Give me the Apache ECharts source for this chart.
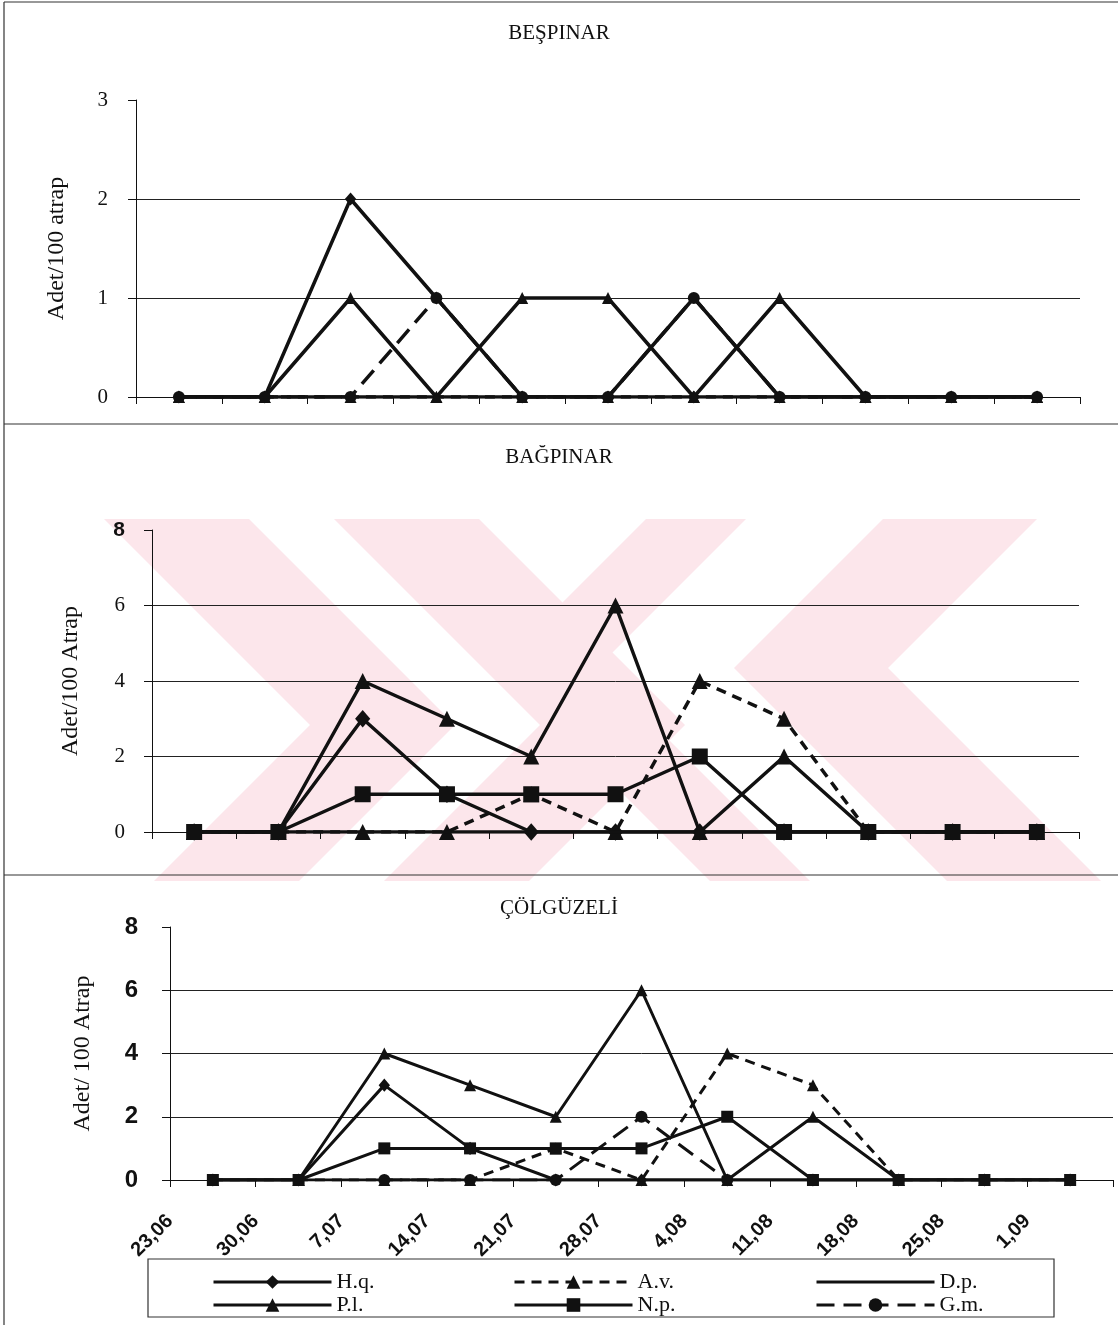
<!DOCTYPE html>
<html>
<head>
<meta charset="utf-8">
<title>Adet/100 atrap</title>
<script src="https://cdn.jsdelivr.net/npm/echarts@6/dist/echarts.min.js"></script>
<style>
  html, body { margin: 0; padding: 0; background: #fff; }
  #chart { width: 1118px; height: 1325px; }
</style>
</head>
<body>
<div id="chart"></div>
<script>
const dates = ['23,06', '30,06', '7,07', '14,07', '21,07', '28,07', '4,08', '11,08', '18,08', '25,08', '1,09'];
const seriesNames = ['H.q.', 'A.v.', 'D.p.', 'P.l.', 'N.p.', 'G.m.'];

// BEŞPINAR
const besHq = [0, 0, 2, 1, 0, 0, 0, 0, 0, 0, 0];
const besAv = [0, 0, 0, 0, 0, 0, 0, 0, 0, 0, 0];
const besDp = [0, 0, 0, 0, 0, 0, 1, 0, 0, 0, 0];
const besPl = [0, 0, 1, 0, 1, 1, 0, 1, 0, 0, 0];
const besNp = [null, null, null, null, null, null, null, null, null, null, null];
const besGm = [0, 0, 0, 1, 0, 0, 1, 0, 0, 0, 0];

// BAĞPINAR
const bagHq = [0, 0, 3, 1, 0, 0, 0, 0, 0, 0, 0];
const bagAv = [0, 0, 0, 0, 1, 0, 4, 3, 0, 0, 0];
const bagDp = [0, 0, 0, 0, 0, 0, 0, 0, 0, 0, 0];
const bagPl = [0, 0, 4, 3, 2, 6, 0, 2, 0, 0, 0];
const bagNp = [0, 0, 1, 1, 1, 1, 2, 0, 0, 0, 0];
const bagGm = [null, null, null, null, null, null, null, null, null, null, null];

// ÇÖLGÜZELİ
const colHq = [0, 0, 3, 1, 0, 0, 0, 0, 0, 0, 0];
const colAv = [0, 0, 0, 0, 1, 0, 4, 3, 0, 0, 0];
const colDp = [0, 0, 0, 0, 0, 0, 0, 0, 0, 0, 0];
const colPl = [0, 0, 4, 3, 2, 6, 0, 2, 0, 0, 0];
const colNp = [0, 0, 1, 1, 1, 1, 2, 0, 0, 0, 0];
const colGm = [null, null, 0, 0, 0, 2, 0, null, null, null, null];

const serif = 'Liberation Serif';
const sans = 'Liberation Sans';
const ink = '#111';

const looks = {
  'H.q.': { symbol: 'diamond', dash: 'solid' },
  'A.v.': { symbol: 'triangle', dash: [10, 7] },
  'D.p.': { symbol: 'none', dash: 'solid' },
  'P.l.': { symbol: 'triangle', dash: 'solid' },
  'N.p.': { symbol: 'rect', dash: 'solid' },
  'G.m.': { symbol: 'circle', dash: [18, 9] }
};

const panels = [
  { title: 'BEŞPINAR', yName: 'Adet/100 atrap', max: 3, step: 1, size: 12, width: 3.5,
    data: [besHq, besAv, besDp, besPl, besNp, besGm],
    grid: { left: 136, top: 100, width: 944, height: 297 },
    titleTop: 18, nameGap: 67, labelGap: 28 },
  { title: 'BAĞPINAR', yName: 'Adet/100 Atrap', max: 8, step: 2, size: 16, width: 3.5,
    data: [bagHq, bagAv, bagDp, bagPl, bagNp, bagGm],
    grid: { left: 152, top: 530, width: 927, height: 302 },
    titleTop: 442, nameGap: 69, labelGap: 27 },
  { title: 'ÇÖLGÜZELİ', yName: 'Adet/ 100 Atrap', max: 8, step: 2, size: 12, width: 3,
    data: [colHq, colAv, colDp, colPl, colNp, colGm],
    grid: { left: 170, top: 927, width: 943, height: 253 },
    titleTop: 893, nameGap: 75, labelGap: 32 }
];

const yLabel = (p, v) => {
  if (p === 2) return '{bb|' + v + '}';
  if (p === 1 && v === 8) return '{b|' + v + '}';
  return '{s|' + v + '}';
};

const xAxis = [];
const yAxis = [];
const series = [];
const title = [];

panels.forEach((p, gi) => {
  title.push({
    text: p.title, left: 'center', top: p.titleTop,
    textStyle: { fontFamily: serif, fontSize: 21, fontWeight: 'normal', color: ink }
  });
  xAxis.push({
    type: 'category', gridIndex: gi, data: dates, boundaryGap: true, position: 'bottom',
    axisLine: { lineStyle: { color: ink, width: 1 } },
    axisTick: { show: true, length: 7, lineStyle: { color: ink } },
    axisLabel: { show: false },
    splitLine: { show: false }
  });
  yAxis.push({
    type: 'value', gridIndex: gi, min: 0, max: p.max, interval: p.step,
    name: p.yName, nameLocation: 'middle', nameGap: p.nameGap, nameRotate: 90,
    nameTextStyle: { fontFamily: serif, fontSize: 24, color: ink },
    axisLine: { show: true, lineStyle: { color: ink, width: 1 } },
    axisTick: { show: true, length: 8, lineStyle: { color: ink } },
    axisLabel: {
      margin: p.labelGap,
      formatter: v => yLabel(gi, v),
      rich: {
        s: { fontFamily: serif, fontSize: 21, color: ink },
        b: { fontFamily: sans, fontSize: 21, fontWeight: 'bold', color: ink },
        bb: { fontFamily: sans, fontSize: 24, fontWeight: 'bold', color: ink }
      }
    },
    splitLine: { show: true, showMaxLine: false, lineStyle: { color: '#222', width: 1 } }
  });
  seriesNames.forEach((name, si) => {
    const look = looks[name];
    series.push({
      name, type: 'line', xAxisIndex: gi, yAxisIndex: gi,
      data: p.data[si],
      symbol: look.symbol,
      symbolSize: look.symbol === 'diamond' ? [p.size * 0.95, p.size * 1.1] : p.size,
      showAllSymbol: true,
      connectNulls: false,
      lineStyle: { color: ink, width: p.width, type: look.dash },
      itemStyle: { color: ink, borderWidth: 0 },
      emphasis: { disabled: true },
      animation: false,
      z: 2 + si
    });
  });
});

// date labels sit on the category boundaries, as in the original
xAxis.push({
  type: 'value', gridIndex: 2, position: 'bottom', min: 0, max: 11, interval: 1,
  axisLine: { show: false }, axisTick: { show: false }, splitLine: { show: false },
  axisLabel: {
    rotate: 45, margin: 38,
    formatter: v => dates[v] || '',
    fontFamily: sans, fontSize: 20, fontWeight: 'bold', color: ink
  }
});

const legendPos = [
  [207, 1266], [508, 1266], [810, 1266],
  [207, 1289], [508, 1289], [810, 1289]
];
const legendOrder = ['H.q.', 'A.v.', 'D.p.', 'P.l.', 'N.p.', 'G.m.'];
const legend = legendOrder.map((name, i) => ({
  data: [name === 'D.p.' ? { name, itemStyle: { opacity: 0 } } : name],
  left: legendPos[i][0], top: legendPos[i][1],
  itemWidth: 118, itemHeight: 17, selectedMode: false,
  lineStyle: { width: 3 },
  textStyle: { fontFamily: serif, fontSize: 22, color: ink }
}));

const line = (x1, y1, x2, y2) => ({
  type: 'line', shape: { x1, y1, x2, y2 },
  style: { stroke: '#333', lineWidth: 1.2 }, silent: true
});

// faint pink watermark of the scanned page, behind the middle panel
const wmTop = 519, wmBottom = 881;
const chevron = (tipX, tipY, d, dir) => {
  const up = tipY - wmTop, down = wmBottom - tipY;
  const pts = [
    [tipX - dir * up, wmTop], [tipX, tipY], [tipX - dir * down, wmBottom],
    [tipX - dir * down + dir * d, wmBottom], [tipX + dir * d, tipY], [tipX - dir * up + dir * d, wmTop]
  ];
  return {
    type: 'polygon', shape: { points: pts }, z: -100, silent: true,
    style: { fill: '#fce6eb', stroke: 'none' }
  };
};

const chart = echarts.init(document.getElementById('chart'));
chart.setOption({
  backgroundColor: '#fff',
  animation: false,
  title,
  legend,
  grid: panels.map(p => p.grid),
  xAxis,
  yAxis,
  series,
  graphic: [
    chevron(310, 725, 145, 1),
    chevron(540, 725, 145, 1),
    chevron(888, 668, 154, -1),
    chevron(597, 668, 100, -1),
    line(4, 2, 1118, 2),
    line(4, 2, 4, 1325),
    line(4, 424, 1118, 424),
    line(4, 875, 1118, 875),
    {
      type: 'rect', shape: { x: 148, y: 1259, width: 906, height: 58 },
      style: { fill: 'none', stroke: '#333', lineWidth: 1.2 }, silent: true
    }
  ]
});
window.addEventListener('resize', () => chart.resize());
</script>
</body>
</html>
